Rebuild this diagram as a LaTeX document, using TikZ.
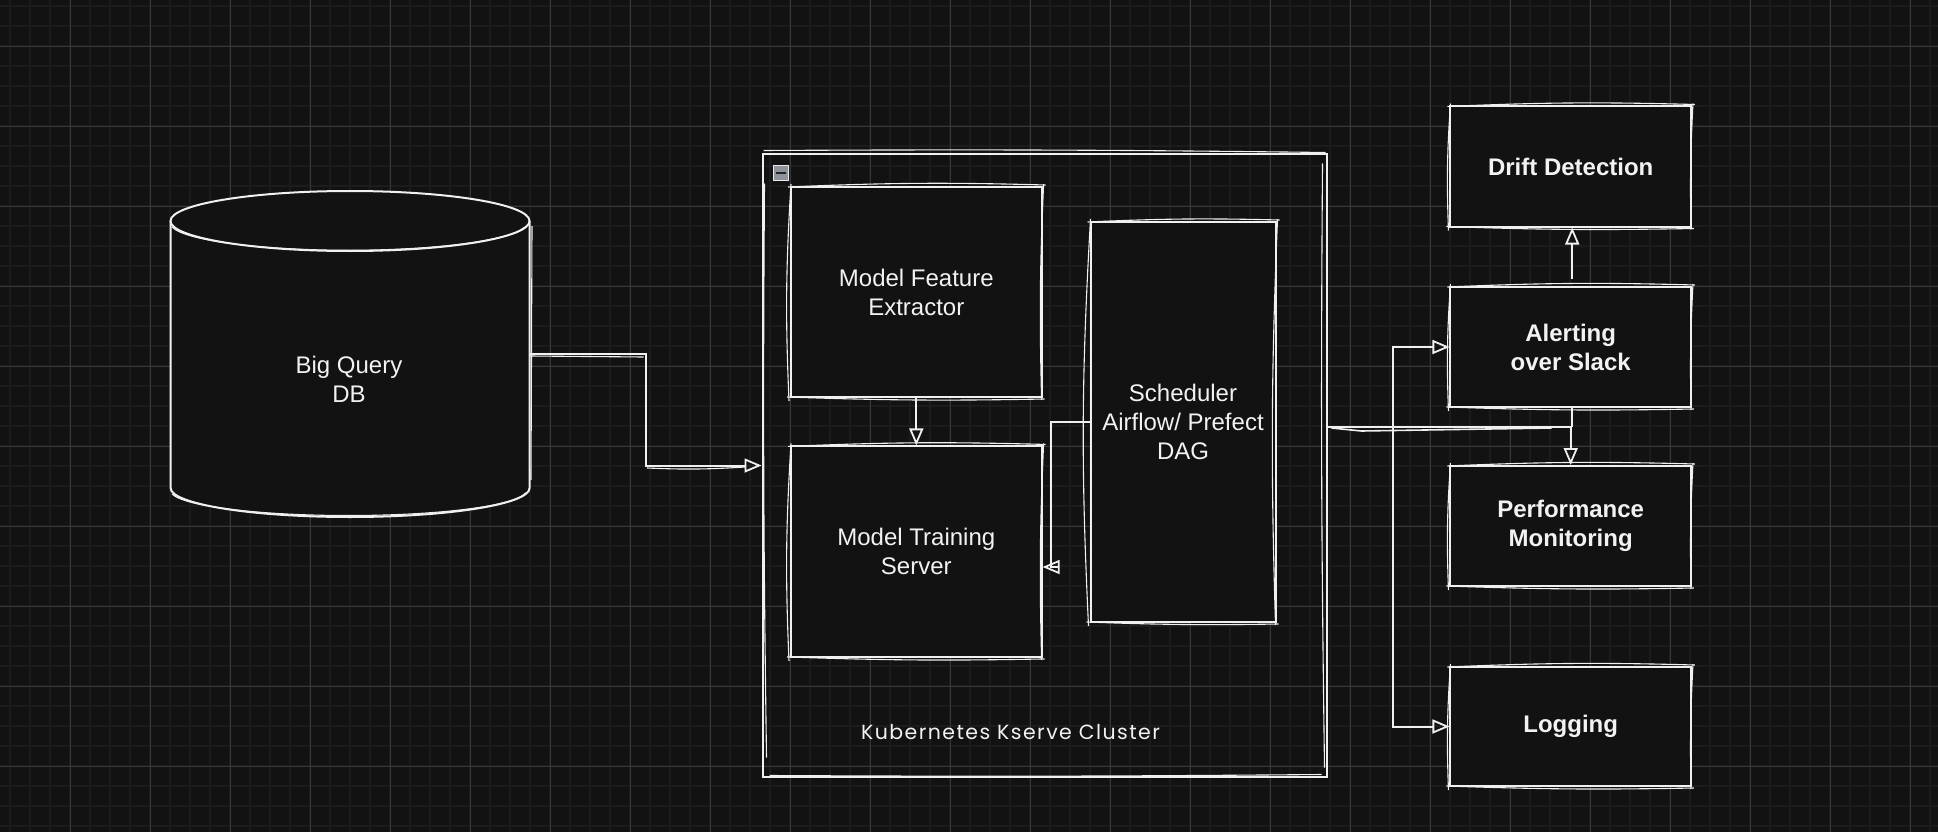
\documentclass[tikz,border=0pt]{standalone}
\usepackage{fontspec}
\setmainfont{Liberation Sans}
\newfontfamily\handfont[LetterSpace=7]{Poppins}
\usetikzlibrary{arrows.meta,calc}
\definecolor{bgc}{HTML}{121212}
\definecolor{minorc}{HTML}{1C1C1C}
\definecolor{majorc}{HTML}{383838}
\definecolor{lc}{HTML}{F0F0F0}
\definecolor{tc}{HTML}{F2F2F2}
\definecolor{iconc}{HTML}{8E939C}
\tikzset{
  box/.style={draw=lc, fill=bgc, line width=2pt, text=tc, align=center, inner sep=0pt,
    font=\fontsize{24}{29}\selectfont},
  boldbox/.style={box, font=\fontsize{24}{29}\selectfont\bfseries},
  frame/.style={draw=lc, line width=2pt, inner sep=0pt},
  sk/.style={draw=lc, line width=1.1pt},
  arr/.style={draw=lc, line width=2pt, -{Triangle[open,length=17pt,width=14pt,line width=1.8pt]}},
  plain/.style={draw=lc, line width=2pt},
  txt/.style={text=tc, align=center, inner sep=0pt, font=\fontsize{24}{29}\selectfont},
}
\newcommand\skbox[1]{%
  \draw[sk] ([shift={(-2,1)}]#1.north west) to[bend left=2] ([shift={(3,-1)}]#1.north east);
  \draw[sk] ([shift={(1,-2)}]#1.north east) to[bend right=2] ([shift={(-1,2)}]#1.south east);
  \draw[sk] ([shift={(2,1)}]#1.south east) to[bend left=1.5] ([shift={(-3,-1)}]#1.south west);
  \draw[sk] ([shift={(-1,3)}]#1.south west) to[bend left=3] ([shift={(1,-2)}]#1.north west);
}
\begin{document}
\begin{tikzpicture}[x=1pt,y=-1pt]
\useasboundingbox (0,0) rectangle (1938,832);
\fill[bgc] (0,0) rectangle (1938,832);
% grid
\begin{scope}
\clip (0,0) rectangle (1938,832);
\foreach \gx in {10,30,...,1930} \draw[minorc, line width=1.6pt] (\gx,0) -- (\gx,832);
\foreach \gy in {6,26,...,826} \draw[minorc, line width=1.6pt] (0,\gy) -- (1938,\gy);
\foreach \gx in {70,150,...,1930} \draw[majorc, line width=0.9pt] (\gx,0) -- (\gx,832);
\foreach \gy in {46,126,...,806} \draw[majorc, line width=0.9pt] (0,\gy) -- (1938,\gy);
\end{scope}

% Big Query cylinder
\fill[bgc] (170.6,221) -- (170.6,488) arc[start angle=180, end angle=0, x radius=179.5, y radius=29] -- (529.6,221) -- cycle;
\draw[plain] (170.6,221) -- (170.6,488) arc[start angle=180, end angle=0, x radius=179.5, y radius=29] -- (529.6,221);
\draw[plain, fill=bgc] (350,221) ellipse[x radius=179.5, y radius=30];
\draw[sk] (172,227) arc[start angle=172, end angle=8, x radius=178, y radius=27];
\draw[sk] (172,494) arc[start angle=172, end angle=5, x radius=178, y radius=25];
\draw[sk] (532,226) -- (531,480);
\node[txt] (db) at (349,379) {Big Query\\DB};
\coordinate (dbE) at (529.6,354);

% cluster
\node[frame, minimum width=564pt, minimum height=622pt] (cluster) at (1044.5,465.5) {};
\draw[sk] ([shift={(2,-3)}]cluster.north west) to[bend left=0.5] ([shift={(-2,-1)}]cluster.north east);
\draw[sk] ([shift={(-5,10)}]cluster.north east) to[bend right=0.6] ([shift={(-3,-10)}]cluster.south east);
\draw[sk] ([shift={(-6,-3)}]cluster.south east) to[bend left=0.4] ([shift={(8,-2)}]cluster.south west);
\draw[sk] ([shift={(5,-20)}]cluster.south west) to[bend left=0.6] ([shift={(3,30)}]cluster.north west);
\node[draw=white!80!iconc, fill=iconc, minimum size=15pt, inner sep=0pt, line width=0.8pt] (collapse) at (781,173) {};
\draw[black!85, line width=1.8pt] ([xshift=-5pt]collapse.center) -- ([xshift=5pt]collapse.center);
\node[text=tc, inner sep=0pt, font=\handfont\fontsize{20.5}{24}\selectfont] (clusterlabel) at (1010.5,732) {Kubernetes Kserve Cluster};

% inner boxes
\node[box, minimum width=250.6pt, minimum height=210pt] (fe) at (916.3,292) {Model Feature\\Extractor};
\skbox{fe}
\node[box, minimum width=250.6pt, minimum height=210.5pt] (ts) at (916.3,551.7) {Model Training\\Server};
\skbox{ts}
\node[box, minimum width=185pt, minimum height=400pt] (sch) at (1183,422) {Scheduler\\Airflow/ Prefect\\DAG};
\skbox{sch}

% right boxes
\node[boldbox, minimum width=240.5pt, minimum height=120pt] (drift) at (1570.7,166.5) {Drift Detection};
\skbox{drift}
\node[boldbox, minimum width=240.5pt, minimum height=120pt] (alert) at (1570.7,347) {Alerting\\over Slack};
\skbox{alert}
\node[boldbox, minimum width=240.5pt, minimum height=120pt] (perf) at (1570.7,526) {Performance\\Monitoring};
\skbox{perf}
\node[boldbox, minimum width=240.5pt, minimum height=119pt] (log) at (1570.7,726.5) {Logging};
\skbox{log}

% connectors
\draw[arr] (dbE) -- ++(116,0) |- (cluster.west);
\draw[sk] ([shift={(0,2)}]dbE) -- ++(114,1);
\draw[sk] (647,468) to[bend right=3] (745,467);
\draw[arr] (fe.south) -- (ts.north);
\draw[arr] (sch.west) -- ++(-39,0) |- ([shift={(0,15.3)}]ts.east);
\coordinate (clOut) at ([shift={(0,-38.5)}]cluster.east);
\draw[arr] (clOut) -- ++(65.5,0) |- (alert.west);
\draw[arr] (clOut) -- ++(65.5,0) |- (log.west);
\draw[arr] (clOut) -| (perf.north);
\draw[sk, line width=1.6pt] ([shift={(4,1)}]clOut) -- ++(30,3) -- ++(190,-3);
\draw[plain] ([xshift=1.5pt]alert.south) -- ([xshift=1.5pt]clOut -| alert.south);
\draw[arr] ([shift={(1.5,-7)}]alert.north) -- ([xshift=1.5pt]drift.south);
\end{tikzpicture}
\end{document}
